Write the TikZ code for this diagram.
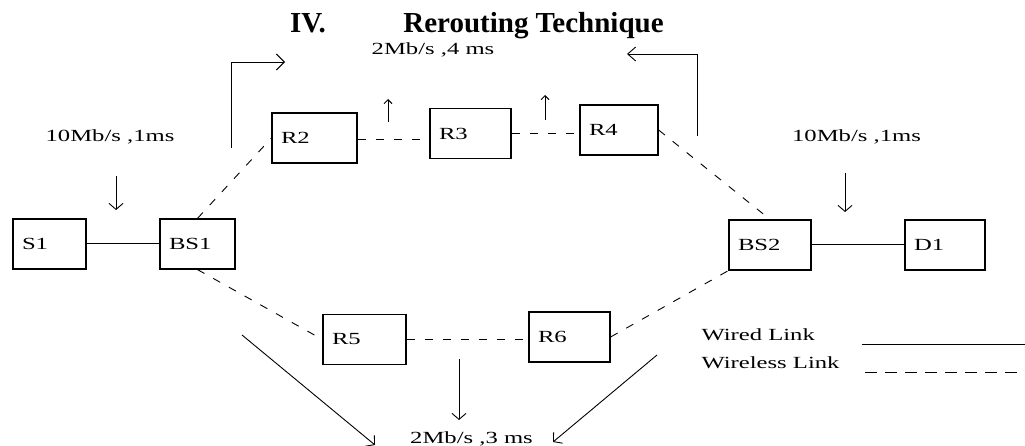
\documentclass[tikz,border=0pt]{standalone}
\usepackage{fontspec}
\setmainfont{Liberation Serif}
\newfontfamily\widefont[FakeStretch=1.45]{Liberation Serif}
\usetikzlibrary{positioning,arrows.meta}
\newcommand{\lbl}{\widefont\fontsize{17}{20}\selectfont}
\newcommand{\ttl}{\fontsize{29}{34}\selectfont\bfseries}

\begin{document}
\begin{tikzpicture}[x=1pt,y=-1pt,
  station/.style={draw,line width=1.2pt,minimum height=50pt,text width=#1,
    align=left,inner xsep=9pt,inner ysep=0pt,font=\lbl},
  station/.default=63pt,
  wired/.style={line width=1pt},
  wireless/.style={line width=0.9pt,dash pattern=on 8pt off 10pt},
  flow/.style={line width=0.9pt,-{Straight Barb[length=6pt,width=14pt]}},
  upflow/.style={line width=0.9pt,-{Straight Barb[length=4pt,width=8pt]}}]
  \useasboundingbox (0,0) rectangle (1025,446);

  % --- Titulo ---
  \node[font=\ttl,anchor=base] (secnum) at (308,33) {IV.};
  \node[font=\ttl,anchor=base] (sectitle) at (533.5,33) {Rerouting Technique};

  % --- Estaciones ---
  \node[station=55pt] (s1)  at (49.5,244)   {S1};
  \node[station=57pt] (bs1) at (197.5,244)  {BS1};
  \node[station=67pt] (r2)  at (314.5,138)  {R2};
  \node[station=63pt] (r3)  at (470.5,133.5){R3};
  \node[station=60pt] (r4)  at (619,130)    {R4};
  \node[station=64pt] (bs2) at (770,245)    {BS2};
  \node[station=62pt] (d1)  at (945,245)    {D1};
  \node[station=65pt] (r5)  at (364.5,339.5){R5};
  \node[station=63pt] (r6)  at (569.5,337)  {R6};

  % --- Enlaces ---
  \draw[wired] (s1.east) -- (s1.east -| bs1.west);
  \draw[wired] (bs2.east) -- (bs2.east -| d1.west);
  \draw[wireless] (bs1.north) -- (r2.west);
  \draw[wireless] ([yshift=-1pt]r2.east) -- ([yshift=-1pt]r2.east -| r3.west);
  \draw[wireless] (r3.east) -- (r3.east -| r4.west);
  \draw[wireless] (r4.east) -- (bs2.north);
  \draw[wireless] (bs1.south) -- (r5.west);
  \draw[wireless] (r5.east) -- (r5.east -| r6.west);
  \draw[wireless] (r6.east) -- (bs2.south west);

  % --- Etiquetas de los enlaces ---
  \node[font=\lbl] (rateleft)  at (110,137)   {10Mb/s ,1ms};
  \node[font=\lbl] (rateright) at (856.5,137) {10Mb/s ,1ms};
  \node[font=\lbl] (rateup)    at (433,50)    {2Mb/s ,4 ms};
  \node[font=\lbl] (ratedown)  at (471.5,439) {2Mb/s ,3 ms};

  % --- Flechas ---
  \coordinate (fl1) at (116,176);  \coordinate (fl1e) at (116,210);
  \coordinate (fr1) at (845,173);  \coordinate (fr1e) at (845,212);
  \coordinate (bl)  at (231,148);  \coordinate (ble)  at (285,62);
  \coordinate (br)  at (697,136);  \coordinate (bre)  at (627,54);
  \coordinate (u1)  at (388,122);  \coordinate (u1e)  at (388,99);
  \coordinate (u2)  at (545,120);  \coordinate (u2e)  at (545,95);
  \coordinate (dl)  at (242,335);  \coordinate (dle)  at (375,445);
  \coordinate (dm)  at (459,359);  \coordinate (dme)  at (459,420);
  \coordinate (dr)  at (657,355);  \coordinate (dre)  at (553,442);
  \draw[flow] (fl1) -- (fl1e);
  \draw[flow] (fr1) -- (fr1e);
  \draw[flow,-{Straight Barb[length=8pt,width=16pt]}] (bl) |- (ble);
  \draw[flow,-{Straight Barb[length=8pt,width=14pt]}] (br) |- (bre);
  \draw[upflow] (u1) -- (u1e);
  \draw[upflow] (u2) -- (u2e);
  \draw[flow] (dl) -- (dle);
  \draw[flow] (dm) -- (dme);
  \draw[flow] (dr) -- (dre);

  % --- Leyenda ---
  \node[font=\lbl,anchor=west] (wiredtxt)    at (698,335) {Wired Link};
  \node[font=\lbl,anchor=west] (wirelesstxt) at (698,363) {Wireless Link};
  \coordinate (lw)  at (862,344);  \coordinate (lwe)  at (1025,344);
  \coordinate (lwl) at (865,372);  \coordinate (lwle) at (1025,372);
  \draw[wired] (lw) -- (lwe);
  \draw[wireless,dash pattern=on 12pt off 8pt] (lwl) -- (lwle);
\end{tikzpicture}
\end{document}
